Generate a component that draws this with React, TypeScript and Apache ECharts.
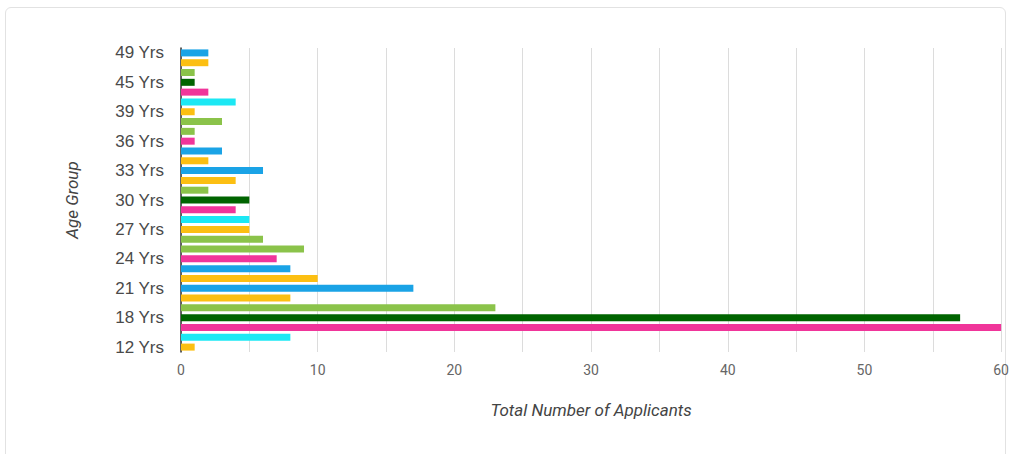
import React, { useEffect, useRef } from "react";
import * as echarts from "echarts";

const ageGroups = [
  "12 Yrs", "16 Yrs", "17 Yrs", "18 Yrs", "19 Yrs", "20 Yrs", "21 Yrs", "22 Yrs",
  "23 Yrs", "24 Yrs", "25 Yrs", "26 Yrs", "27 Yrs", "28 Yrs", "29 Yrs", "30 Yrs",
  "31 Yrs", "32 Yrs", "33 Yrs", "34 Yrs", "35 Yrs", "36 Yrs", "37 Yrs", "38 Yrs",
  "39 Yrs", "40 Yrs", "42 Yrs", "45 Yrs", "46 Yrs", "47 Yrs", "49 Yrs",
];

const applicants = [
  1, 8, 60, 57, 23, 8, 17, 10, 8, 7, 9, 6, 5, 5, 4, 5,
  2, 4, 6, 2, 3, 1, 1, 3, 1, 4, 2, 1, 1, 2, 2,
];

const xTicks = [0, 10, 20, 30, 40, 50, 60];

const BLUE = "#1aa3e6";
const YELLOW = "#fcbf12";
const LGREEN = "#8bc34a";
const DGREEN = "#006400";
const PINK = "#f0359a";
const CYAN = "#1ce8f4";
// palette cycles from the top bar downward
const palette = [BLUE, YELLOW, LGREEN, DGREEN, PINK, CYAN, YELLOW, LGREEN, LGREEN, PINK, BLUE, YELLOW];

export default function App() {
  const ref = useRef<HTMLDivElement>(null);

  useEffect(() => {
    if (!ref.current) return;
    const chart = echarts.init(ref.current, undefined, { renderer: "svg" });
    const n = applicants.length;
    chart.setOption({
      animation: false,
      grid: { left: 181, right: 3, top: 48, bottom: 102, containLabel: false },
      xAxis: {
        type: "value",
        min: 0,
        max: 60,
        interval: 5,
        name: "Total Number of Applicants",
        nameLocation: "middle",
        nameGap: 49,
        nameTextStyle: { fontFamily: "Roboto", fontSize: 17, fontStyle: "italic", color: "#444" },
        axisLine: { show: false },
        axisTick: { show: false },
        axisLabel: {
          fontFamily: "Roboto",
          fontSize: 14,
          color: "#666",
          margin: 11,
          formatter: (v: number) => (xTicks.includes(v) ? String(v) : ""),
        },
        splitLine: { show: true, lineStyle: { color: "#dcdcdc", width: 1 } },
      },
      yAxis: {
        type: "category",
        data: ageGroups,
        name: "Age Group",
        nameLocation: "middle",
        nameGap: 101,
        nameTextStyle: { fontFamily: "Roboto", fontSize: 17, fontStyle: "italic", color: "#444" },
        axisLine: { show: true, lineStyle: { color: "#333", width: 1.5 } },
        axisTick: { show: false },
        axisLabel: {
          interval: 2,
          fontFamily: "Liberation Sans",
          fontSize: 17,
          color: "#4a4a4a",
          margin: 17,
        },
        splitLine: { show: false },
      },
      series: [
        {
          type: "bar",
          barWidth: 7,
          data: applicants.map((v, i) => ({
            value: v,
            itemStyle: { color: palette[(n - 1 - i) % palette.length] },
          })),
        },
      ],
    });
    return () => chart.dispose();
  }, []);

  return (
    <div style={{ position: "fixed", left: 0, top: 0, width: 1012, height: 454, background: "#fff", overflow: "hidden" }}>
      <div
        style={{
          position: "absolute",
          left: 5,
          top: 7,
          width: 1001,
          height: 470,
          border: "1px solid #e2e2e2",
          borderRadius: 6,
          boxSizing: "border-box",
        }}
      />
      <div ref={ref} style={{ position: "absolute", left: 0, top: 0, width: 1012, height: 454 }} />
    </div>
  );
}
